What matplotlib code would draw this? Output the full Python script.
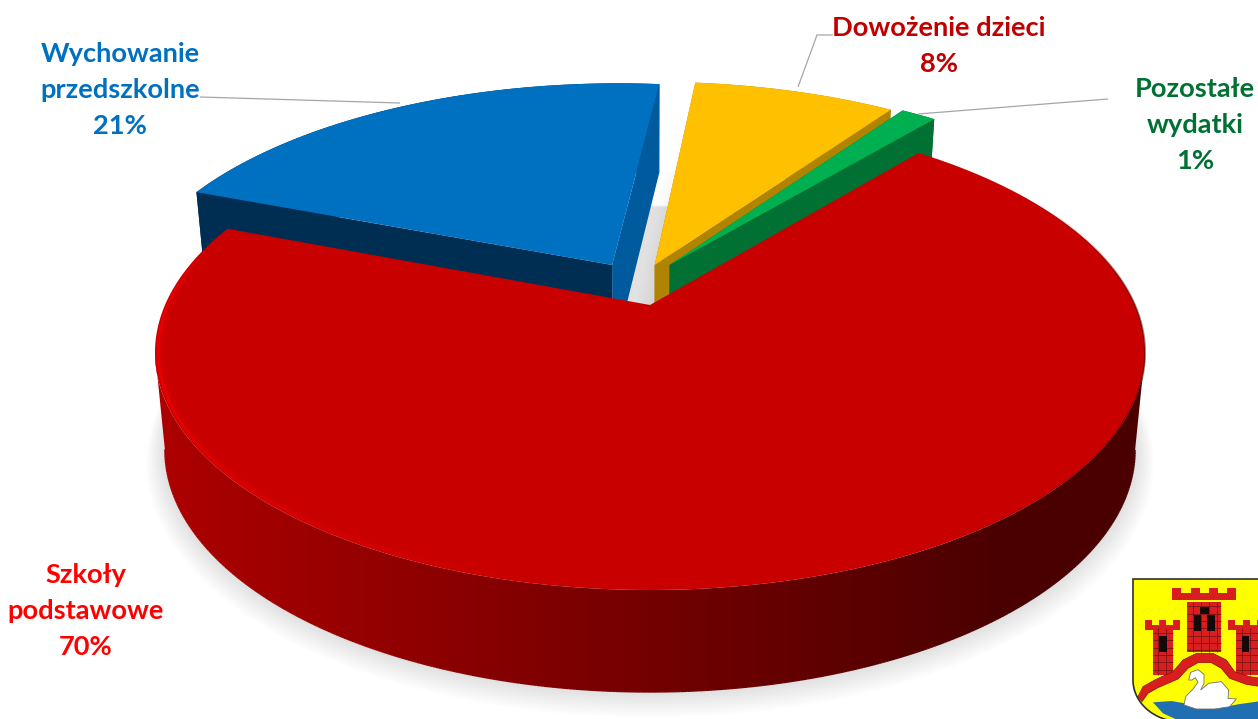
import numpy as np
import matplotlib
matplotlib.use("Agg")
import matplotlib.pyplot as plt
from matplotlib.collections import LineCollection
from matplotlib.colors import LinearSegmentedColormap
from matplotlib.patches import Polygon

# ---------- data ----------
categories = ["Wychowanie\nprzedszkolne", "Dowożenie dzieci", "Pozostałe\nwydatki", "Szkoły\npodstawowe"]
values = [20.8, 8.0, 1.4, 69.8]
percent_labels = ["21%", "8%", "1%", "70%"]

# ---------- style / layout ----------
top_colors = ["#0070C0", "#FFC000", "#00B050", "#C80000"]
right_face = ["#005A9E", "#B08400", "#007033", "#C80000"]
left_face = ["#002E52", "#B08400", "#007033", "#C80000"]
text_colors = ["#0070C0", "#C00000", "#007033", "#FF0000"]
label_pos = [(120, 90), (939, 46), (1195, 125), (86, 611)]
explode = [(-0.081, -0.182), (0.01, -0.182), (0.042, -0.182), (0, 0)]
radius = [1.025, 1.035, 1.03, 1.0]
start_angle = -69.0
CX, CY, A, B, K = 650.0, 305.0, 228.0, 485.0, 0.2

W, H = 1258, 719
fig = plt.figure(figsize=(W / 100, H / 100), dpi=100)
ax = fig.add_axes([0, 0, 1, 1])


def top(u, v):
    d = 1 - K * v
    return CX + B * u / d, CY + A * v / d


def bottom(u, v):
    x, y = top(u, v)
    return CX + (x - CX) * 0.98, y + 96 + 6 * np.asarray(v)


def rim(a0, a1, r, off, n=120):
    t = np.radians(np.linspace(a0, a1, n))
    return off[0] + r * np.sin(t), off[1] - r * np.cos(t)


def pts(fn, u, v):
    x, y = fn(u, v)
    return np.column_stack([x, y])


total = sum(values)
edges = start_angle + np.cumsum([0] + values) * 360.0 / total
spans = list(zip(edges[:-1], edges[1:]))

# ---------- soft ground shadow ----------
for i in range(1, 11):
    u, v = rim(0, 360, 1 + 0.0028 * i, (0, 0.004 * i), 240)
    ax.add_patch(Polygon(pts(bottom, u, v), closed=True, fc="#808080", ec="none", alpha=0.022, zorder=1))

# shadow thrown in the gap beside the yellow slice
a0, a1 = spans[1]
u, v = rim(a0, a1, radius[1], explode[1], 40)
yb = pts(bottom, np.r_[explode[1][0], u], np.r_[explode[1][1], v])
for dx in range(3, 33, 3):
    ax.add_patch(Polygon(yb - [dx, 0], closed=True, fc="#808080", ec="none", alpha=0.016, zorder=1.5))

# ---------- exploded slices ----------
z = 2
for i in range(3):
    a0, a1 = spans[i]
    off = explode[i]
    u, v = rim(a0, a1, radius[i], off)
    au, av = np.array([off[0]]), np.array([off[1]])
    ax.add_patch(Polygon(np.vstack([pts(top, u, v), pts(bottom, u, v)[::-1]]), closed=True,
                         fc=left_face[i], ec="none", zorder=z))
    ax.add_patch(Polygon(np.vstack([pts(top, au, av), pts(top, u[-1:], v[-1:]),
                                    pts(bottom, u[-1:], v[-1:]), pts(bottom, au, av)]),
                         closed=True, fc=right_face[i], ec="none", zorder=z + 0.1))
    ax.add_patch(Polygon(np.vstack([pts(top, au, av), pts(top, u[:1], v[:1]),
                                    pts(bottom, u[:1], v[:1]), pts(bottom, au, av)]),
                         closed=True, fc=left_face[i], ec="none", zorder=z + 0.2))
    ax.add_patch(Polygon(np.vstack([pts(top, au, av), pts(top, u, v)]), closed=True,
                         fc=top_colors[i], ec="none", zorder=z + 0.3))
    z += 1

# ---------- big slice ----------
a0, a1 = spans[3]
u, v = rim(a0, a1, radius[3], explode[3], 720)
tp, bt = pts(top, u, v), pts(bottom, u, v)
wall_cmap = LinearSegmentedColormap.from_list("wall", ["#AC0000", "#4B0000"])
ang_all = np.linspace(a0, a1, len(u))
# wall band spans the two silhouette points of the disc
ia, ib = np.argmax(tp[:, 0]), np.argmin(tp[:, 0])
band = np.vstack([tp[ia:ib + 1], bt[ia:ib + 1][::-1]])
clip = Polygon(band, closed=True, transform=ax.transData, fc="none", ec="none")
ax.add_patch(clip)
img = ax.imshow(np.linspace(0, 1, 256)[None, :], extent=(165, 1000, H, 0), cmap=wall_cmap,
                aspect="auto", zorder=10, interpolation="bilinear")
for ex, colr in (((120, 165), "#AC0000"), ((1000, 1180), "#4B0000")):
    ax.add_patch(Polygon([(ex[0], 0), (ex[1], 0), (ex[1], H), (ex[0], H)], closed=True, fc=colr, ec="none",
                         zorder=10, clip_path=clip))
img.set_clip_path(clip)
seg_b = np.stack([bt[ia:ib], bt[ia + 1:ib + 1]], axis=1)
ax.add_collection(LineCollection(seg_b, colors=wall_cmap(np.clip((seg_b[:, 0, 0] - 165) / 835, 0, 1)),
                                 linewidths=1.0, zorder=10.5))
ax.add_patch(Polygon(np.vstack([[[CX, CY]], tp]), closed=True, fc=top_colors[3], ec="none", zorder=11))

# rim highlight on the lit side (just inside the edge), dark edge on the far side
ang = ang_all[:-1] % 360
glow = np.clip((ang - 185) / 70, 0, 1) * np.clip((288 - ang) / 18, 0, 1)
for lw, al, rr in ((5.0, 0.18, 0.990), (2.2, 0.5, 0.994)):
    ui, vi = rim(a0, a1, rr, (0, 0), 720)
    pi = pts(top, ui, vi)
    rgba = np.zeros((len(pi) - 1, 4))
    rgba[:, 0] = 1.0
    rgba[:, 3] = glow * al
    ax.add_collection(LineCollection(np.stack([pi[:-1], pi[1:]], axis=1), colors=rgba, linewidths=lw, zorder=12))
seg = np.stack([tp[:-1], tp[1:]], axis=1)
dark = np.clip((ang - 60) / 30, 0, 1) * np.clip((150 - ang) / 40, 0, 1)
rgba = np.zeros((len(seg), 4))
rgba[:, 0] = 0.2
rgba[:, 3] = dark * 0.5
ax.add_collection(LineCollection(seg, colors=rgba, linewidths=1.4, zorder=12))

# ---------- leaders ----------
for xs, ys in [((200, 400), (97, 103)), ((833, 817, 798), (35, 35, 87)), ((1108, 918), (99, 114))]:
    ax.plot(xs, ys, color="#A6A6A6", lw=0.9, zorder=13, solid_capstyle="butt")

# ---------- labels ----------
for cat, pct, col, (x, y) in zip(categories, percent_labels, text_colors, label_pos):
    ax.text(x, y, f"{cat}\n{pct}", color=col, ha="center", va="center", family="Lato",
            weight="bold", fontsize=19.6, linespacing=1.6, zorder=14)


# ---------- coat of arms (decoration) ----------
def Z(p):
    p = np.asarray(p, float)
    return p / 3 + [1118, 565]


def shape(p, fc, ec="none", lw=0, zo=20):
    ax.add_patch(Polygon(Z(p), closed=True, fc=fc, ec=ec, lw=lw, zorder=zo))


t = np.radians(np.linspace(180, 265, 30))
shield = [(45, 42), (430, 42), (430, 470), (190, 470)]
arc = np.column_stack([190 + 145 * np.cos(t), 345 - 125 * np.sin(t)])
shape(np.vstack([shield[:3], [(190, 470)], arc[::-1]]), "#FFFF00", "#303030", 1.2, 20)
RED = "#D81E1E"
DK = "#6A1010"


def tower(x0, x1, y0, y1, bx0, bx1, by0, by1, merlons, win):
    shape([(x0, y0), (x1, y0), (x1, y1), (x0, y1)], RED, zo=21)
    shape([(bx0, by0 + 14), (bx1, by0 + 14), (bx1, by1), (bx0, by1)], RED, zo=21)
    w = (bx1 - bx0) / (2 * merlons - 1)
    for m in range(merlons):
        mx = bx0 + 2 * m * w
        shape([(mx, by0), (mx + w, by0), (mx + w, by1), (mx, by1)], RED, zo=21)
    segs = [[(x0, yy), (x1, yy)] for yy in np.arange(y0 + 14, y1, 22)]
    segs += [[(xx, y0), (xx, y1)] for xx in np.arange(x0 + 16, x1, 24)]
    ax.add_collection(LineCollection([Z(s) for s in segs], colors=DK, linewidths=0.5, zorder=22))
    for (wx0, wx1, wy0, wy1) in win:
        shape([(wx0, wy0), (wx1, wy0), (wx1, wy1), (wx0, wy1)], "#150808", zo=23)


tower(208, 310, 110, 260, 163, 355, 70, 105, 4, [(228, 248, 150, 198), (268, 290, 150, 198), (245, 272, 125, 148)])
tower(105, 165, 190, 330, 82, 187, 165, 195, 3, [(124, 146, 213, 262)])
tower(355, 425, 190, 330, 330, 440, 165, 195, 3, [(373, 393, 213, 262)])
arch_o = [(60, 395), (75, 365), (110, 345), (165, 320), (195, 285), (235, 265), (285, 265), (325, 285), (350, 320), (395, 335), (430, 340),
          (430, 365), (385, 358), (335, 340), (310, 310), (280, 293), (240, 293), (210, 310), (180, 342), (120, 368), (90, 385), (72, 410)]
shape(arch_o, RED, "#8A1010", 0.5, 24)
water = [(105, 412), (160, 408), (230, 420), (300, 430), (360, 418), (430, 408), (430, 470), (190, 470), (135, 445)]
shape(water, "#1F6FB2", zo=25)
swan = [(198, 420), (203, 395), (225, 372), (240, 352), (232, 338), (222, 345), (212, 345), (218, 322), (240, 314), (258, 328),
        (258, 355), (248, 375), (272, 355), (310, 350), (332, 375), (330, 400), (355, 402), (335, 425), (290, 432), (235, 432)]
shape(swan, "#FFFFFF", "#707070", 0.6, 26)

ax.set_xlim(0, W)
ax.set_ylim(H, 0)
ax.axis("off")
fig.savefig("out.png", dpi=100)
